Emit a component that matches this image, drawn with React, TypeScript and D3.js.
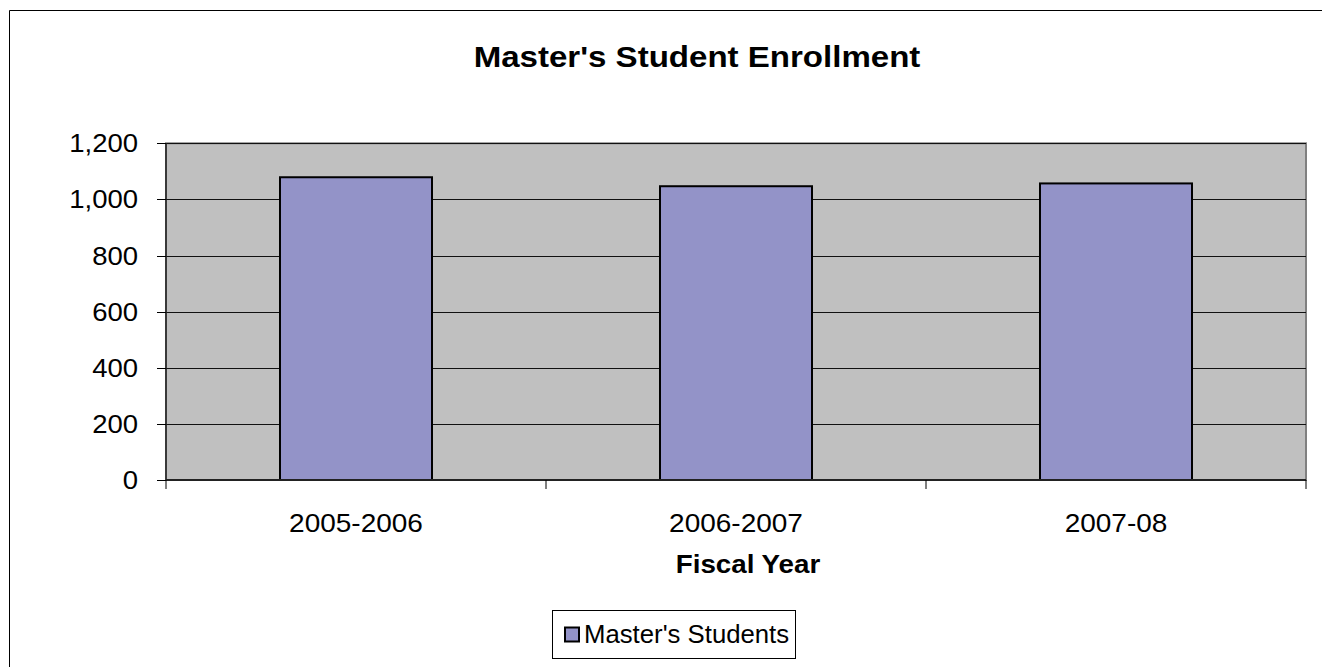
import React from "react";
import * as d3 from "d3";

const categories = ["2005-2006", "2006-2007", "2007-08"];
const masters = [1079, 1047, 1057];
const yTicks = [0, 200, 400, 600, 800, 1000, 1200];
const title = "Master's Student Enrollment";
const xTitle = "Fiscal Year";
const seriesName = "Master's Students";

const W = 1322;
const H = 667;
const plot = { left: 166, right: 1306, top: 143.3, bottom: 480 };
const FONT = "'Liberation Sans', Arial, sans-serif";

export default function App() {
  const x = d3
    .scaleBand<string>()
    .domain(categories)
    .range([plot.left, plot.right])
    .paddingInner(0.6)
    .paddingOuter(0.3);
  const band = d3.scaleBand<string>().domain(categories).range([plot.left, plot.right]);
  const y = d3.scaleLinear().domain([0, 1200]).range([plot.bottom, plot.top]);
  const fmt = d3.format(",");

  const boundaries = [plot.left, ...categories.map((c) => (band(c) as number) + band.bandwidth())];

  return (
    <svg
      width={W}
      height={H}
      style={{ position: "absolute", left: 0, top: 0, background: "#fff", overflow: "hidden" }}
      fontFamily={FONT}
    >
      <path d={`M9.5,${H} V10.5 H${W}`} fill="none" stroke="#000" strokeWidth={1} />
      {/* Title */}
      <text
        transform={`translate(697,66.7) scale(1.14,1)`}
        textAnchor="middle"
        fontSize={29}
        fontWeight="bold"
        fill="#000"
      >
        {title}
      </text>
      {/* plot area */}
      <rect
        x={plot.left}
        y={plot.top}
        width={plot.right - plot.left}
        height={plot.bottom - plot.top}
        fill="#C0C0C0"
        stroke="#808080"
        strokeWidth={2}
      />
      {/* gridlines */}
      {yTicks.map((t) => (
        <line
          key={"g" + t}
          x1={plot.left}
          x2={plot.right}
          y1={Math.round(y(t)) + 0.5}
          y2={Math.round(y(t)) + 0.5}
          stroke="#111"
          strokeWidth={1}
        />
      ))}
      {/* bars */}
      {categories.map((c, i) => (
        <rect
          key={c}
          x={x(c) as number}
          y={y(masters[i])}
          width={x.bandwidth()}
          height={plot.bottom - y(masters[i])}
          fill="#9393C8"
          stroke="#000"
          strokeWidth={2}
        />
      ))}
      {/* y axis */}
      <line x1={plot.left} x2={plot.left} y1={plot.top} y2={plot.bottom} stroke="#222" strokeWidth={1.5} />
      {yTicks.map((t) => (
        <g key={"t" + t}>
          <line
            x1={plot.left - 9}
            x2={plot.left}
            y1={Math.round(y(t)) + 0.5}
            y2={Math.round(y(t)) + 0.5}
            stroke="#000"
          />
          <text
            transform={`translate(138,${y(t) + 9}) scale(1.1,1)`}
            textAnchor="end"
            fontSize={25}
            fill="#000"
          >
            {fmt(t)}
          </text>
        </g>
      ))}
      {/* x axis */}
      <line x1={plot.left} x2={plot.right} y1={plot.bottom} y2={plot.bottom} stroke="#222" strokeWidth={2} />
      {boundaries.map((b, i) => (
        <line key={"xb" + i} x1={b} x2={b} y1={plot.bottom} y2={plot.bottom + 9} stroke="#000" strokeWidth={1} />
      ))}
      {categories.map((c) => (
        <text
          key={"xl" + c}
          transform={`translate(${(band(c) as number) + band.bandwidth() / 2},531.7) scale(1.12,1)`}
          textAnchor="middle"
          fontSize={25}
          fill="#000"
        >
          {c}
        </text>
      ))}
      <text
        transform={`translate(748,573.3) scale(1.11,1)`}
        textAnchor="middle"
        fontSize={25}
        fontWeight="bold"
        fill="#000"
      >
        {xTitle}
      </text>
      {/* legend */}
      <rect x={552.5} y={610.5} width={243} height={48} fill="#fff" stroke="#000" strokeWidth={1} />
      <rect x={565} y={627.5} width={14} height={14} fill="#9393C8" stroke="#000" strokeWidth={2} />
      <text transform={`translate(584,643.3) scale(1.03,1)`} fontSize={25} fill="#000">
        {seriesName}
      </text>
    </svg>
  );
}
